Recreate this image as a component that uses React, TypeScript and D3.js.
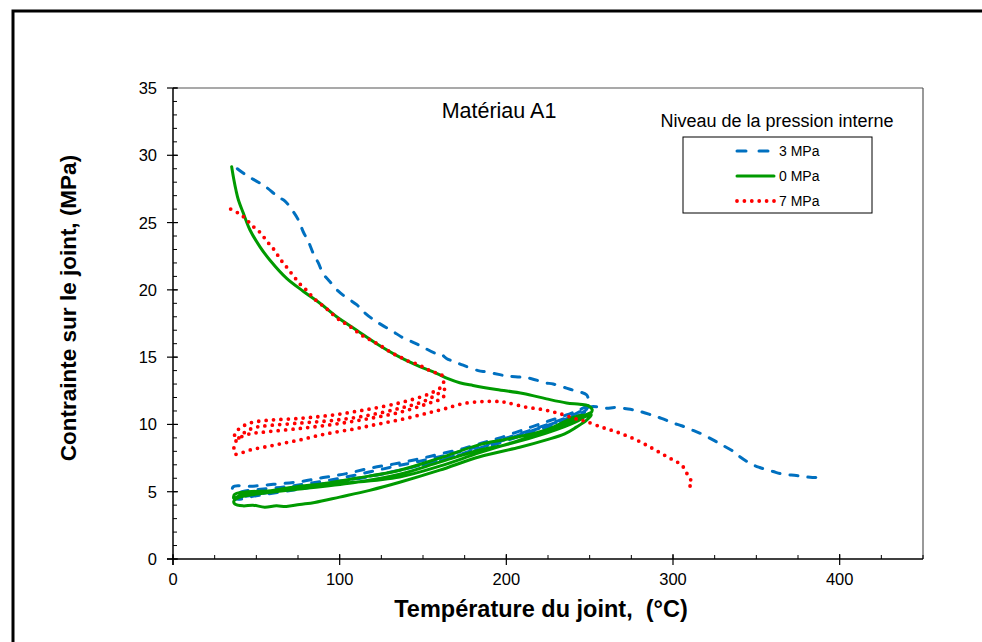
import React from "react";
import * as d3 from "d3";

// ---- Data (Température °C, Contrainte MPa) ----
const series3MPa: [number, number][] = [
  [38.6, 29.0], [44.2, 28.5], [51.2, 28.0], [56.2, 27.6], [63.2, 26.9], [67.2, 26.6], [72.2, 25.8], [75.2, 25.2],
  [78.2, 24.3], [81.2, 23.6], [84.2, 22.7], [87.2, 22.0], [90.1, 21.2], [94.2, 20.6], [99.2, 19.9], [103.2, 19.5],
  [110.2, 18.9], [114.1, 18.4], [120.1, 17.8], [125.2, 17.4], [132.1, 16.9], [137.1, 16.5], [144.1, 16.1], [149.2, 15.8],
  [157.1, 15.3], [161.1, 15.2], [164.1, 14.9], [170.1, 14.6], [174.1, 14.4], [183.1, 14.0], [188.1, 13.9], [196.1, 13.7],
  [200.1, 13.6], [210.1, 13.5], [215.1, 13.4], [223.1, 13.1], [228.1, 13.0], [236.1, 12.7], [241.1, 12.5], [248.1, 12.2],
  [249.3, 11.7],
  [248, 11.1], [242, 10.7], [224, 9.9], [200, 8.9], [170, 7.7], [136, 6.6], [100, 5.7], [76, 5.2], [50, 4.7], [37, 4.5],
  [36, 5.35],
  [46.2, 5.4], [60.2, 5.55], [76.2, 5.75], [90.1, 6.05], [104.2, 6.35], [118.1, 6.75], [132.1, 7.05], [146.1, 7.4],
  [160.1, 7.8], [174.1, 8.2], [186.1, 8.65], [196.1, 9.0], [210.1, 9.6], [224.1, 10.2], [236.1, 10.7], [244.1, 11.1], [250, 11.4],
  [247, 10.9], [236, 10.3], [210, 9.2], [180, 8.0], [150, 7.0], [120, 6.2], [90, 5.6], [60, 5.0], [40, 4.7],
  [40, 4.9], [70, 5.4], [100, 6.0], [130, 6.8], [160, 7.6], [190, 8.6], [220, 9.8], [240, 10.7], [250, 11.3],
  [255, 11.3], [260.1, 11.2], [265.1, 11.25], [273.1, 11.15], [279.1, 11.0], [287.1, 10.7], [293.1, 10.45], [300.1, 10.1],
  [305.1, 9.9], [312.1, 9.55], [317.1, 9.3], [324, 8.85], [329.1, 8.5], [336.1, 8.0], [340.1, 7.6], [347.1, 7.05],
  [352, 6.8], [360, 6.5], [366, 6.3], [374, 6.2], [380, 6.1], [386, 6.05], [390, 6.1],
];

const series0MPa: [number, number][] = [
  [35.2, 29.15], [36.5, 28.2], [37.8, 27.4], [39.2, 26.7], [42.2, 25.7], [46.2, 24.45], [52.2, 23.2], [58.2, 22.2],
  [68.2, 20.85], [78.1, 19.9], [88.2, 19.0], [98.2, 18.0], [110.2, 17.0], [122.2, 16.0], [136.1, 15.0], [148.1, 14.3],
  [158.1, 13.8], [165, 13.4], [172, 13.1], [180, 12.9], [194.1, 12.6], [210.1, 12.3], [224.1, 11.9], [236.1, 11.6],
  [244, 11.5], [249, 11.4], [251.5, 11.1], [250.5, 10.8],
  [246, 10.5], [242, 10.2], [224, 9.35], [200, 8.5], [184, 8.1], [160, 7.2], [136, 6.3], [110, 5.7], [76, 5.2], [55, 4.9], [40, 4.6], [36.5, 4.3],
  [37, 4.1], [42, 3.95], [48, 4.0], [55, 3.85], [62, 3.95], [68, 3.9], [76, 4.05], [85, 4.2], [100, 4.6], [118, 5.1],
  [136, 5.7], [160, 6.6], [184, 7.6], [208, 8.3], [224, 8.85], [235, 9.3], [242, 9.8], [248, 10.3], [251, 10.7],
  [249, 10.7], [242, 10.6], [224, 9.6], [200, 8.9], [184, 8.5], [160, 7.5], [136, 6.6], [110, 6.0], [90, 5.6], [76, 5.4], [55, 5.0], [40, 4.7], [36.5, 4.5],
  [37, 4.8], [60, 5.1], [76, 5.3], [100, 5.6], [136, 6.1], [160, 6.9], [184, 7.9], [210, 8.9], [224, 9.5], [242, 10.4], [251, 10.9],
];

const series7MPa: [number, number][] = [
  [34.6, 26.0], [39.2, 25.7], [43.6, 25.3], [47.2, 24.8], [51.2, 24.4], [54.6, 23.9], [57.8, 23.4], [61.2, 22.9],
  [64.2, 22.3], [67.2, 21.85], [70.6, 21.3], [73.8, 20.8], [77.2, 20.3], [80.8, 19.9], [84.2, 19.4], [88.6, 18.95],
  [92.6, 18.55], [96.6, 18.1], [100.6, 17.7], [104.8, 17.4], [109.2, 17.0], [113.6, 16.6], [118.1, 16.3], [122.5, 16.0],
  [127.1, 15.65], [131.5, 15.3], [136.5, 15.0], [141.3, 14.7], [146.1, 14.5], [151.1, 14.2], [155.7, 13.9], [160.7, 13.75],
  [162.5, 13.3],
  [161, 12.8], [156, 12.4], [150, 12.1], [136, 11.6], [116, 11.1], [96, 10.7], [76, 10.45], [56, 10.3], [46, 10.1], [40, 9.7], [37, 9.3],
  [38, 8.9], [44, 9.5], [50, 9.8], [56, 9.9], [76, 10.1], [96, 10.3], [116, 10.65], [136, 11.2], [150, 11.7], [158, 12.2], [163, 12.6],
  [162, 12.0], [154, 11.6], [136, 10.9], [116, 10.4], [96, 10.0], [76, 9.7], [56, 9.45], [46, 9.3], [40, 9.0], [37, 8.6],
  [37.2, 7.8], [40, 7.85], [46.2, 8.1], [56.2, 8.35], [66.1, 8.6], [76.2, 8.85], [86.2, 9.15], [96.1, 9.4], [108.1, 9.65],
  [118.1, 9.9], [128.1, 10.15], [138.1, 10.4], [148.1, 10.7], [156.1, 10.95], [164.1, 11.2], [174.1, 11.55], [186.1, 11.7],
  [196.1, 11.7], [201.1, 11.6], [211.1, 11.3], [222.1, 11.1], [232.1, 10.8], [242.1, 10.4], [247.1, 10.25], [257.1, 9.8],
  [267.1, 9.4], [277.1, 8.9], [286.5, 8.3], [295.1, 7.7], [300.1, 7.35], [305.1, 7.0], [307.7, 6.5], [309.6, 6.05],
  [311.6, 5.65], [309, 5.3],
];

const xTicks = [0, 100, 200, 300, 400];
const yTicks = [0, 5, 10, 15, 20, 25, 30, 35];
const legendLabels = ["3 MPa", "0 MPa", "7 MPa"];

const FONT = "Arial, 'Liberation Sans', sans-serif";

export default function App() {
  const left = 173, right = 923, top = 88, bottom = 559;
  const x = d3.scaleLinear().domain([0, 450]).range([left, right]);
  const y = d3.scaleLinear().domain([0, 35]).range([bottom, top]);
  const line = d3
    .line<[number, number]>()
    .x((d) => x(d[0]))
    .y((d) => y(d[1]))
    .curve(d3.curveCatmullRom.alpha(0.5));

  const xMinor = d3.range(0, 451, 25);
  const yMinor = d3.range(0, 36, 1);

  const styles = [
    { stroke: "#0070C0", width: 3, dash: "8 10", cap: "round" as const },
    { stroke: "#009A00", width: 3, dash: undefined, cap: "round" as const },
    { stroke: "#FF0000", width: 3.8, dash: "0 7.4", cap: "round" as const },
  ];
  const data = [series3MPa, series0MPa, series7MPa];

  return (
    <svg
      width={982}
      height={642}
      style={{ position: "absolute", left: 0, top: 0, background: "#fff" }}
      fontFamily={FONT}
    >
      <rect x={0} y={0} width={982} height={642} fill="#fff" />
      {/* outer frame */}
      <rect x={13} y={11} width={1000} height={700} fill="none" stroke="#000" strokeWidth={3} />

      {/* plot frame top/right */}
      <line x1={left} y1={top} x2={right} y2={top} stroke="#555" strokeWidth={1.2} />
      <line x1={right} y1={top} x2={right} y2={bottom} stroke="#555" strokeWidth={1.2} />

      {/* minor ticks */}
      {xMinor.map((v) => (
        <line key={"xm" + v} x1={x(v)} x2={x(v)} y1={bottom} y2={bottom - 4} stroke="#000" strokeWidth={1} />
      ))}
      {yMinor.map((v) => (
        <line key={"ym" + v} x1={left} x2={left + 4} y1={y(v)} y2={y(v)} stroke="#000" strokeWidth={1} />
      ))}
      {/* major ticks */}
      {xTicks.map((v) => (
        <line key={"xM" + v} x1={x(v)} x2={x(v)} y1={bottom + 6} y2={bottom - 5} stroke="#000" strokeWidth={1.2} />
      ))}
      {yTicks.map((v) => (
        <line key={"yM" + v} x1={left - 6} x2={left + 5} y1={y(v)} y2={y(v)} stroke="#000" strokeWidth={1.2} />
      ))}

      {/* axes */}
      <line x1={left} y1={top} x2={left} y2={bottom + 6} stroke="#000" strokeWidth={1.5} />
      <line x1={left - 6} y1={bottom} x2={right} y2={bottom} stroke="#000" strokeWidth={1.5} />

      {/* tick labels */}
      {xTicks.map((v) => (
        <text key={"xl" + v} x={x(v)} y={bottom + 26} textAnchor="middle" fontSize={16.5} fill="#000">
          {v}
        </text>
      ))}
      {yTicks.map((v) => (
        <text key={"yl" + v} x={left - 16} y={y(v) + 6} textAnchor="end" fontSize={16.5} fill="#000">
          {v}
        </text>
      ))}

      {/* axis titles */}
      <text x={541} y={617} textAnchor="middle" fontSize={23.5} fontWeight="bold" fill="#000">
        Température du joint,{"\u00A0\u00A0"}(°C)
      </text>
      <text
        transform={`translate(76, 308) rotate(-90)`}
        textAnchor="middle"
        fontSize={22.5}
        fontWeight="bold"
        fill="#000"
      >
        Contrainte sur le joint, (MPa)
      </text>

      {/* chart title */}
      <text x={499} y={118} textAnchor="middle" fontSize={21.5} fill="#000">
        Matériau A1
      </text>

      {/* series */}
      {data.map((d, i) => (
        <path
          key={"s" + i}
          d={line(d) || ""}
          fill="none"
          stroke={styles[i].stroke}
          strokeWidth={styles[i].width}
          strokeDasharray={styles[i].dash}
          strokeLinecap={styles[i].cap}
          strokeLinejoin="round"
        />
      ))}

      {/* legend */}
      <text x={777} y={127} textAnchor="middle" fontSize={18} fill="#000">
        Niveau de la pression interne
      </text>
      <rect x={683} y={137} width={189} height={76} fill="#fff" stroke="#000" strokeWidth={1} />
      {legendLabels.map((lab, i) => {
        const ly = 151 + i * 25;
        return (
          <g key={"lg" + i}>
            <line
              x1={737}
              x2={774}
              y1={ly}
              y2={ly}
              stroke={styles[i].stroke}
              strokeWidth={styles[i].width}
              strokeDasharray={i === 0 ? "9 13" : styles[i].dash}
              strokeLinecap={styles[i].cap}
            />
            <text x={779} y={ly + 5} fontSize={14} fill="#000">
              {lab}
            </text>
          </g>
        );
      })}
    </svg>
  );
}
